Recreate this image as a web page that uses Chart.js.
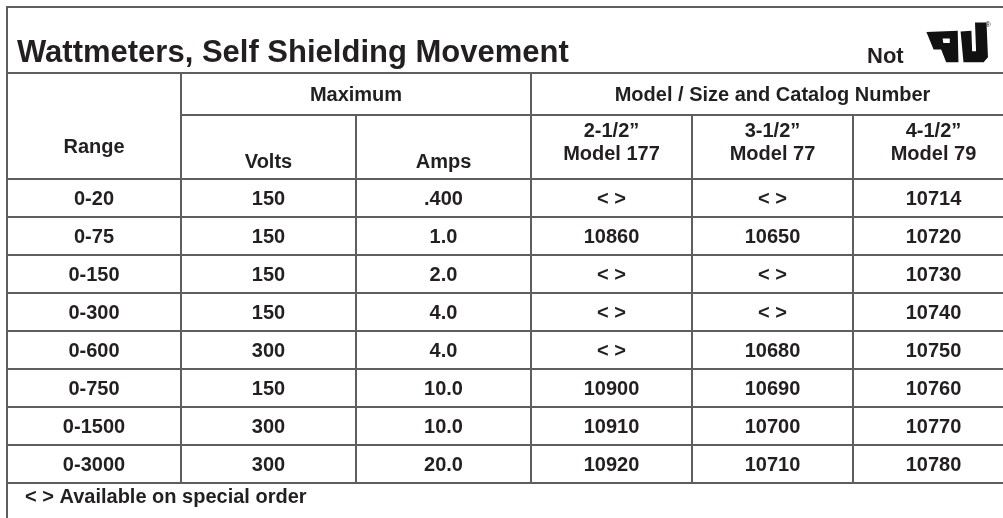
<!DOCTYPE html>
<html>
<head>
<meta charset="utf-8">
<script src="https://cdn.jsdelivr.net/npm/chart.js@4.4.1/dist/chart.umd.min.js"></script>
<style>
  html, body { margin: 0; padding: 0; background: #fff; }
  #wrap { width: 1003px; height: 518px; position: relative; }
</style>
</head>
<body>
<div id="wrap"><canvas id="tableChart"></canvas></div>
<script>
// table content
const titleText = 'Wattmeters, Self Shielding Movement';
const notText = 'Not';
const groupHeaders = ['Maximum', 'Model / Size and Catalog Number'];
const columnHeaders = [['Range'], ['Volts'], ['Amps'], ['2-1/2\u201D', 'Model 177'], ['3-1/2\u201D', 'Model 77'], ['4-1/2\u201D', 'Model 79']];
const ranges = ['0-20', '0-75', '0-150', '0-300', '0-600', '0-750', '0-1500', '0-3000'];
const volts = ['150', '150', '150', '150', '300', '150', '300', '300'];
const amps = ['.400', '1.0', '2.0', '4.0', '4.0', '10.0', '10.0', '20.0'];
const model177 = ['< >', '10860', '< >', '< >', '< >', '10900', '10910', '10920'];
const model77 = ['< >', '10650', '< >', '< >', '10680', '10690', '10700', '10710'];
const model79 = ['10714', '10720', '10730', '10740', '10750', '10760', '10770', '10780'];
const footnote = '< > Available on special order';

// layout (in scale units, same as the page pixels)
const colEdges = [7, 181, 356, 531, 692, 853, 1014];
const tableTop = 7, titleBottom = 73, groupBottom = 115, headBottom = 179;
const rowHeight = 38;
const lineColor = '#5e5e5e';
const textColor = '#231f20';
const fontFamily = '"Liberation Sans", Arial, Helvetica, sans-serif';

const columns = [ranges, volts, amps, model177, model77, model79];
const colCenter = c => (colEdges[c] + colEdges[c + 1]) / 2;
const rowCenter = r => headBottom + rowHeight * (r + 0.5);

const datasets = columns.map((col, c) => ({
  label: columnHeaders[c].join(' '),
  cellText: col,
  data: col.map((v, r) => ({ x: colCenter(c), y: rowCenter(r) })),
  pointRadius: 0,
  showLine: false
}));

const tablePlugin = {
  id: 'tablePlugin',
  afterDatasetsDraw(chart) {
    const ctx = chart.ctx;
    const px = v => chart.scales.x.getPixelForValue(v);
    const py = v => chart.scales.y.getPixelForValue(v);
    const right = chart.scales.x.max;
    const bottom = chart.scales.y.max;
    const tableBottom = headBottom + rowHeight * ranges.length;
    ctx.save();

    // grid lines
    ctx.strokeStyle = lineColor;
    ctx.lineWidth = 2;
    function hline(y, x1, x2) {
      ctx.beginPath(); ctx.moveTo(px(x1), py(y)); ctx.lineTo(px(x2), py(y)); ctx.stroke();
    }
    function vline(x, y1, y2) {
      ctx.beginPath(); ctx.moveTo(px(x), py(y1)); ctx.lineTo(px(x), py(y2)); ctx.stroke();
    }
    hline(tableTop, colEdges[0], right);
    hline(titleBottom, colEdges[0], right);
    hline(groupBottom, colEdges[1], right);
    for (let r = 0; r <= ranges.length; r++) hline(headBottom + rowHeight * r, colEdges[0], right);
    vline(colEdges[0], tableTop - 1, bottom);
    vline(colEdges[1], titleBottom, tableBottom);
    vline(colEdges[2], groupBottom, tableBottom);
    vline(colEdges[3], titleBottom, tableBottom);
    vline(colEdges[4], groupBottom, tableBottom);
    vline(colEdges[5], groupBottom, tableBottom);

    ctx.fillStyle = textColor;

    // title
    ctx.textAlign = 'left';
    ctx.font = 'bold 31px ' + fontFamily;
    ctx.fillText(titleText, px(17), py(62));
    ctx.font = 'bold 22px ' + fontFamily;
    ctx.fillText(notText, px(867), py(63));

    // logo (backwards R + U mark)
    const lx = zx => px(921 + zx * 0.36);
    const ly = zy => py(17 + zy * 0.36);
    function poly(pts) {
      ctx.moveTo(lx(pts[0][0]), ly(pts[0][1]));
      pts.slice(1).forEach(p => ctx.lineTo(lx(p[0]), ly(p[1])));
      ctx.closePath();
    }
    ctx.fillStyle = '#111';
    ctx.beginPath();
    poly([[15, 42], [102, 38], [104, 126], [70, 126], [56, 90], [35, 90]]);
    poly([[60, 60], [80, 60], [80, 72], [62, 72]]);
    ctx.fill('evenodd');
    ctx.beginPath();
    poly([[110, 40], [140, 38], [142, 95], [153, 95], [150, 15], [182, 15], [186, 112], [174, 126], [118, 126]]);
    ctx.fill();
    ctx.fillStyle = textColor;
    ctx.font = '8px ' + fontFamily;
    ctx.fillText('\u00AE', px(985), py(27));

    // group headers
    ctx.textAlign = 'center';
    ctx.font = 'bold 20px ' + fontFamily;
    ctx.fillText(groupHeaders[0], (px(colEdges[1]) + px(colEdges[3])) / 2, py(101));
    ctx.fillText(groupHeaders[1], (px(colEdges[3]) + px(colEdges[6])) / 2, py(101));

    // column headers
    columnHeaders.forEach((lines, c) => {
      const x = px(colCenter(c));
      if (c === 0) ctx.fillText(lines[0], x, py(153));
      else if (lines.length === 1) ctx.fillText(lines[0], x, py(168));
      else {
        ctx.fillText(lines[0], x, py(137));
        ctx.fillText(lines[1], x, py(160));
      }
    });

    // body cells, placed at each point of the datasets
    chart.data.datasets.forEach((ds, c) => {
      chart.getDatasetMeta(c).data.forEach((pt, r) => {
        ctx.fillText(ds.cellText[r], pt.x, pt.y + 7);
      });
    });

    // footnote
    ctx.textAlign = 'left';
    ctx.fillText(footnote, px(25), py(503));
    ctx.restore();
  }
};

new Chart(document.getElementById('tableChart'), {
  type: 'scatter',
  data: { datasets: datasets },
  options: {
    responsive: true,
    maintainAspectRatio: false,
    animation: false,
    events: [],
    layout: { padding: 0 },
    plugins: { legend: { display: false }, tooltip: { enabled: false } },
    scales: {
      x: { type: 'linear', min: 0, max: 1003, display: false },
      y: { type: 'linear', min: 0, max: 518, reverse: true, display: false }
    }
  },
  plugins: [tablePlugin]
});
</script>
</body>
</html>
